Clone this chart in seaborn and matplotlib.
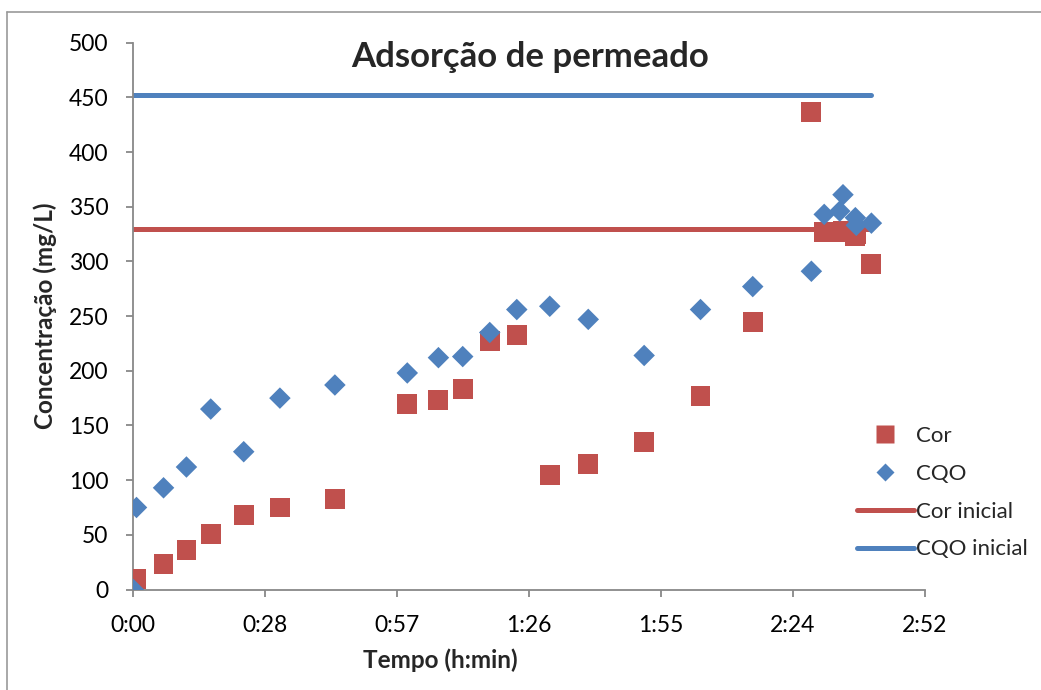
import matplotlib
matplotlib.use("Agg")
import matplotlib.pyplot as plt
import seaborn as sns
import pandas as pd
from matplotlib.lines import Line2D

# ---- data (time in minutes) ----
tempo = [0, 0.7, 6.6, 11.6, 16.9, 24.1, 32.0, 44.0, 59.8, 66.6, 71.9, 77.8,
         83.7, 90.9, 99.3, 111.5, 123.8, 135.2, 148.0, 150.8, 154.2, 154.9,
         157.6, 157.8, 161.1]
cor = [2, 10, 23, 36, 51, 68, 75, 83, 170, 173, 183, 227,
       233, 105, 115, 135, 177, 245, 437, 327, 327, 328,
       323, 325, 298]
cqo = [0, 75, 93, 112, 165, 126, 175, 187, 198, 212, 213, 235,
       256, 259, 247, 214, 256, 277, 291, 343, 346, 361,
       340, 333, 335]
linha_tempo = [0, 161.1]
cor_inicial = [330, 330]
cqo_inicial = [452, 452]
x_ticks = [0, 28.8, 57.6, 86.4, 115.2, 144.0, 172.8]
x_labels = ["0:00", "0:28", "0:57", "1:26", "1:55", "2:24", "2:52"]
y_ticks = [0, 50, 100, 150, 200, 250, 300, 350, 400, 450, 500]

RED = "#C0504D"
BLUE = "#4F81BD"

sns.set_style("white")
plt.rcParams["font.family"] = ["Lato", "DejaVu Sans"]

fig = plt.figure(figsize=(10.41, 6.9), dpi=100)
W, H = 1041, 690
AX_L, AX_R, AX_T, AX_B = 133.3, 925.0, 42.7, 589.5
ax = fig.add_axes([AX_L / W, 1 - AX_B / H, (AX_R - AX_L) / W, (AX_B - AX_T) / H])

df_pts = pd.DataFrame({"t": tempo, "cor": cor, "cqo": cqo})
df_lin = pd.DataFrame({"t": linha_tempo, "cor0": cor_inicial, "cqo0": cqo_inicial})

sns.lineplot(data=df_lin, x="t", y="cqo0", ax=ax, color=BLUE, lw=3.6,
             solid_capstyle="round", zorder=2)
sns.lineplot(data=df_lin, x="t", y="cor0", ax=ax, color=RED, lw=3.6,
             solid_capstyle="round", zorder=2)
sns.scatterplot(data=df_pts, x="t", y="cor", ax=ax, marker="s", s=205,
                color=RED, edgecolor="none", zorder=3)
sns.scatterplot(data=df_pts, x="t", y="cqo", ax=ax, marker="D", s=120,
                color=BLUE, edgecolor="none", zorder=4)

ax.set_xlim(0, 172.8)
ax.set_ylim(0, 500)
ax.set_xticks(x_ticks)
ax.set_xticklabels(x_labels)
ax.set_yticks(y_ticks)
ax.tick_params(axis="both", labelsize=16.5, colors="#888888", labelcolor="black",
               length=5, width=1.3, direction="out", left=True, bottom=True)
ax.tick_params(axis="x", pad=13)
ax.tick_params(axis="y", pad=13)
for side in ["top", "right"]:
    ax.spines[side].set_visible(False)
for side in ["left", "bottom"]:
    ax.spines[side].set_color("#888888")
    ax.spines[side].set_linewidth(1.3)
ax.grid(False)

ax.set_xlabel("Tempo (h:min)", fontsize=17.5, fontweight="bold")
ax.set_ylabel("Concentração (mg/L)", fontsize=17.5, fontweight="bold")
ax.xaxis.label.set_va("center")
ax.yaxis.label.set_va("center")
ax.xaxis.set_label_coords((440 - AX_L) / (AX_R - AX_L), (AX_B - 660) / (AX_B - AX_T))
ax.yaxis.set_label_coords((45 - AX_L) / (AX_R - AX_L), 0.5)
ax.text((530 - AX_L) / (AX_R - AX_L), 1 - (57 - AX_T) / (AX_B - AX_T),
        "Adsorção de permeado", transform=ax.transAxes, ha="center", va="center",
        fontsize=25, fontweight="bold")

handles = [
    Line2D([], [], ls="none", marker="s", markersize=13, color=RED, mec="none"),
    Line2D([], [], ls="none", marker="D", markersize=9.5, color=BLUE, mec="none"),
    Line2D([], [], color=RED, lw=3.6, solid_capstyle="round"),
    Line2D([], [], color=BLUE, lw=3.6, solid_capstyle="round"),
]
labels = ["Cor", "CQO", "Cor inicial", "CQO inicial"]
fig.legend(handles, labels, loc="upper left", bbox_to_anchor=(846 / W, 1 - 415 / H),
           frameon=False, fontsize=16, handlelength=2.55, handletextpad=0.12,
           labelspacing=0.8, borderpad=0)

# chart border (top and left visible)
fig.add_artist(Line2D([6.5 / W, 6.5 / W], [0, 1 - 12 / H], transform=fig.transFigure,
                      color="#999999", lw=1.2))
fig.add_artist(Line2D([6.5 / W, 1], [1 - 12 / H, 1 - 12 / H], transform=fig.transFigure,
                      color="#999999", lw=1.2))

fig.savefig("out.png", dpi=100)
